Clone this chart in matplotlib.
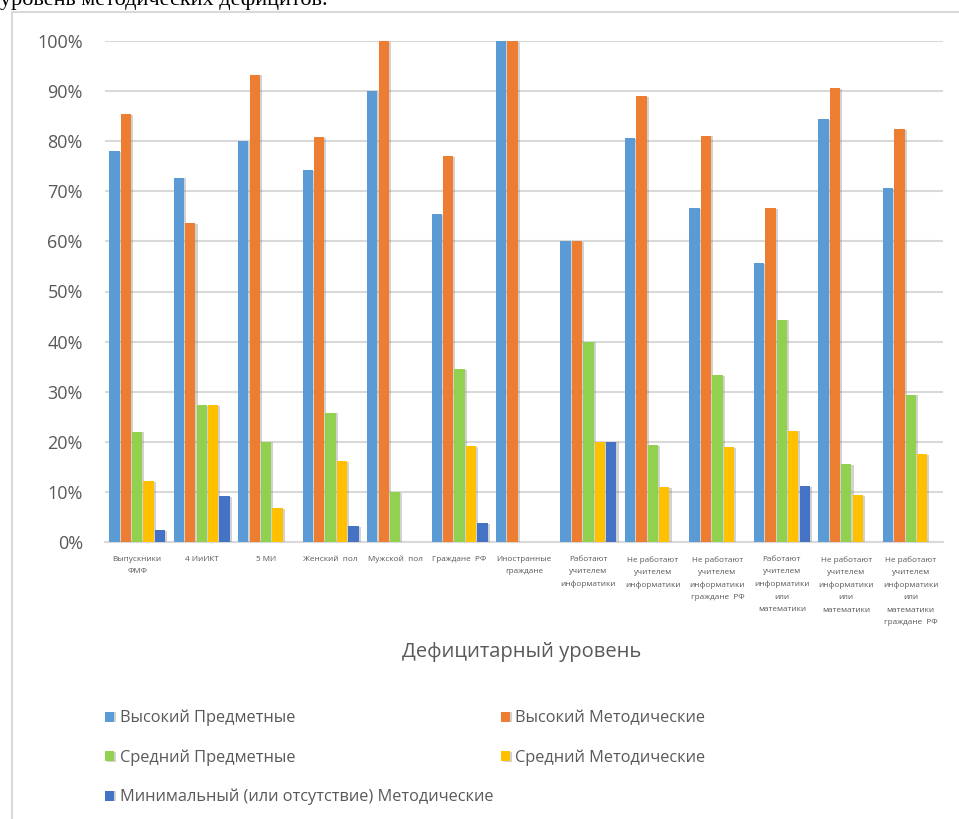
import matplotlib.pyplot as plt
import matplotlib.patheffects as pe
from matplotlib.patches import Rectangle
import numpy as np

plt.rcParams['font.family'] = ['Open Sans', 'DejaVu Sans']

# categories (x axis)
categories = ['Выпускники\nФМФ', '4 ИиИКТ', '5 МИ', 'Женский  пол', 'Мужской  пол',
              'Граждане  РФ', 'Иностранные\nграждане',
              'Работают\nучителем\nинформатики',
              'Не работают\nучителем\nинформатики',
              'Не работают\nучителем\nинформатики\nграждане  РФ',
              'Работают\nучителем\nинформатики\nили\nматематики',
              'Не работают\nучителем\nинформатики\nили\nматематики',
              'Не работают\nучителем\nинформатики\nили\nматематики\nграждане  РФ']

# series values, share of group
high_subj = [0.78, 0.727, 0.80, 0.742, 0.90, 0.655, 1.0, 0.60, 0.806, 0.667, 0.556, 0.844, 0.706]
high_meth = [0.854, 0.636, 0.933, 0.808, 1.0, 0.77, 1.0, 0.60, 0.89, 0.811, 0.667, 0.906, 0.824]
mid_subj = [0.22, 0.273, 0.20, 0.258, 0.10, 0.345, 0.0, 0.40, 0.194, 0.333, 0.444, 0.156, 0.294]
mid_meth = [0.122, 0.273, 0.067, 0.161, 0.0, 0.191, 0.0, 0.20, 0.11, 0.189, 0.222, 0.094, 0.176]
min_meth = [0.024, 0.091, 0.0, 0.031, 0.0, 0.038, 0.0, 0.20, 0.0, 0.0, 0.111, 0.0, 0.0]

series_names = ['Высокий Предметные', 'Высокий Методические', 'Средний Предметные',
                'Средний Методические', 'Минимальный (или отсутствие) Методические']
colors = ['#5B9BD5', '#ED7D31', '#92D050', '#FFC000', '#4472C4']

fig = plt.figure(figsize=(9.59, 8.19), dpi=100)

# chart frame
fig.patches.append(Rectangle((12 / 959, -0.05), 1.2, 1 - 12 / 819 + 0.05,
                             transform=fig.transFigure, fill=False,
                             edgecolor='#d9d9d9', linewidth=1.5))

# cropped document text above the chart
fig.text(0.0, 1 - 5 / 819, 'уровень методических дефицитов.', family='Liberation Serif',
         fontsize=16, color='black', va='baseline', ha='left')

ax = fig.add_axes([105 / 959, 1 - 542 / 819, (943 - 105) / 959, (542 - 41) / 819])

x = np.arange(len(categories))
step = 0.177
width = 0.16
bars = []
for i, (vals, c) in enumerate(zip([high_subj, high_meth, mid_subj, mid_meth, min_meth], colors)):
    b = ax.bar(x + (i - 2) * step, vals, width, color=c, label=series_names[i], zorder=3)
    for p in b.patches:
        p.set_path_effects([pe.SimplePatchShadow(offset=(1.5, -0.5), shadow_rgbFace='#808080', alpha=0.35),
                            pe.Normal()])
    bars.append(b)

ax.set_xlim(-0.5, len(categories) - 0.5)
ax.set_ylim(0, 1.0)
ax.set_yticks(np.arange(0, 1.01, 0.1))
ax.set_yticklabels([f'{int(round(v * 100))}%' for v in np.arange(0, 1.01, 0.1)])
ax.yaxis.grid(True, color='#d9d9d9', linewidth=1.5, zorder=0)
ax.set_axisbelow(True)
ax.tick_params(axis='y', length=0, pad=16, labelsize=13, labelcolor='#595959')
ax.set_xticks(x)
ax.set_xticklabels(categories, fontsize=5.9, color='#595959', linespacing=2.05, va='top')
ax.tick_params(axis='x', length=0, pad=10)
for s in ['top', 'right', 'left']:
    ax.spines[s].set_visible(False)
ax.spines['bottom'].set_color('#d9d9d9')
ax.spines['bottom'].set_linewidth(1.5)

fig.text(522 / 959, 1 - 652 / 819, 'Дефицитарный уровень', ha='center', va='center',
         fontsize=14.5, color='#595959')

order = [0, 2, 4, 1, 3]
leg = fig.legend([bars[i] for i in order], [series_names[i] for i in order],
                 ncol=2, loc='upper left', bbox_to_anchor=(105 / 959, 1 - 710 / 819),
                 frameon=False, fontsize=11.8, labelcolor='#595959',
                 handlelength=0.55, handleheight=0.55, handletextpad=0.35,
                 labelspacing=1.4, columnspacing=0.45, borderpad=0, borderaxespad=0)

fig.savefig('out.png', dpi=100)
